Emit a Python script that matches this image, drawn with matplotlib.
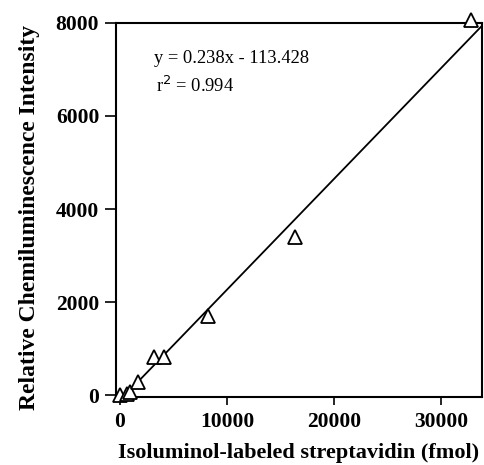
import matplotlib
matplotlib.use("Agg")
import matplotlib.pyplot as plt
import numpy as np

# Data
x_fmol = [0, 650, 950, 1700, 3200, 4100, 8200, 16400, 32800]
y_int = [0, 20, 80, 280, 820, 820, 1700, 3400, 8050]
slope = 0.238
intercept = -113.428
fit_x = [500, 33830]
x_ticks = [0, 10000, 20000, 30000]
y_ticks = [0, 2000, 4000, 6000, 8000]

plt.rcParams['font.family'] = ['Liberation Serif', 'DejaVu Serif']

fig = plt.figure(figsize=(4.85, 4.65), dpi=100)
ax = fig.add_axes([0.239, 0.146, 0.755, 0.805])

fx = np.array(fit_x)
ax.plot(fx, slope * fx + intercept, color='black', lw=1.3, zorder=2)
ax.plot(x_fmol, y_int, linestyle='none', marker='^', markersize=10,
        markerfacecolor='white', markeredgecolor='black', markeredgewidth=1.3,
        clip_on=False, zorder=3)

ax.set_xlim(-370, 33830)
ax.set_ylim(-40, 8000)
ax.set_xticks(x_ticks)
ax.set_yticks(y_ticks)
ax.set_xticklabels([str(v) for v in x_ticks], fontsize=15.5, fontweight='bold')
ax.set_yticklabels([str(v) for v in y_ticks], fontsize=15.5, fontweight='bold')
ax.tick_params(axis='x', direction='out', length=6, width=1.2, pad=5)
ax.tick_params(axis='y', direction='out', length=8, width=1.2, pad=4)
for s in ax.spines.values():
    s.set_linewidth(1.5)

ax.set_xlabel('Isoluminol-labeled streptavidin (fmol)', fontsize=16, fontweight='bold', labelpad=8)
ax.set_ylabel('Relative Chemiluminescence Intensity', fontsize=17, fontweight='bold')
ax.yaxis.set_label_coords(-0.207, 0.48)

ax.text(0.105, 0.905, 'y = 0.238x - 113.428', transform=ax.transAxes, fontsize=13.3,
        va='center', ha='left')
ax.text(0.11, 0.83, r'r$^2$ = 0.994', transform=ax.transAxes, fontsize=13.3,
        va='center', ha='left')

fig.savefig('out.png', dpi=100)
